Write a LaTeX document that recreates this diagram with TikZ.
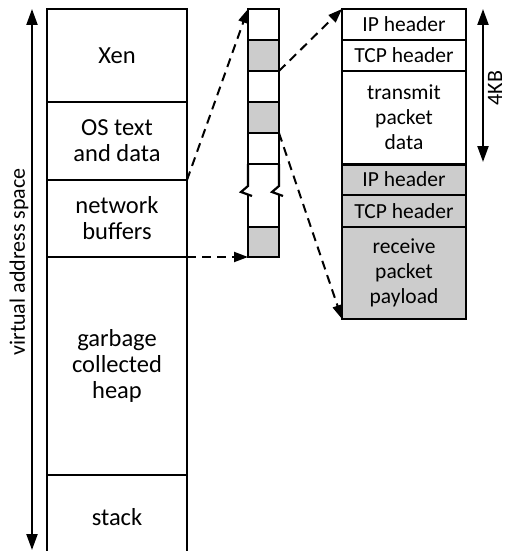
\documentclass[tikz,border=0pt]{standalone}
\usepackage{fontspec}
\setmainfont{Carlito}
\usetikzlibrary{arrows.meta,positioning}
\tikzset{
	cell/.style={draw,line width=2.2pt,outer sep=0pt,inner sep=0pt,minimum width=140pt,align=center,font=\fontsize{24.5}{26}\selectfont},
	slot/.style={draw,line width=2.2pt,outer sep=0pt,inner sep=0pt,minimum width=31pt},
	pkt/.style={draw,line width=2.2pt,outer sep=0pt,inner sep=0pt,minimum width=124pt,align=center,font=\fontsize{21.5}{25}\selectfont},
	shade/.style={fill=black!20},
	edge/.style={line width=2.2pt},
	link/.style={line width=2pt,dash pattern=on 9pt off 6pt,-{Triangle[length=14pt,width=10pt]}},
	span/.style={line width=2.2pt,{Triangle[length=16pt,width=11pt]}-{Triangle[length=16pt,width=11pt]}},
	lbl/.style={rotate=90,font=\fontsize{22}{25}\selectfont},
}
\begin{document}
\begin{tikzpicture}[x=1pt,y=-1pt]
	\useasboundingbox (0,0) rectangle (507,551);
	% address space
	\node[cell,minimum height=93pt] (xen) at (117,55.5) {Xen};
	\node[cell,minimum height=78pt,below=0pt of xen] (os) {OS text\\and data};
	\node[cell,minimum height=77pt,below=0pt of os] (net) {network\\buffers};
	\node[cell,minimum height=218pt,below=0pt of net] (heap) {garbage\\collected\\heap};
	\node[cell,minimum height=85pt,below=0pt of heap] (stack) {stack};
	\coordinate (vtop) at (32,9);
	\coordinate (vbot) at (32,550);
	\draw[span] (vtop) -- (vbot);
	\node[lbl] (vas) at (19,262) {virtual address space};
	% buffer pages
	\node[slot,minimum height=31pt] (s1) at (263.5,24.5) {};
	\node[slot,shade,minimum height=31pt,below=0pt of s1] (s2) {};
	\node[slot,minimum height=31pt,below=0pt of s2] (s3) {};
	\node[slot,shade,minimum height=31pt,below=0pt of s3] (s4) {};
	\node[slot,minimum height=31pt,below=0pt of s4] (s5) {};
	\node[minimum width=31pt,minimum height=63pt,outer sep=0pt,inner sep=0pt,below=0pt of s5] (s6) {};
	\node[slot,shade,minimum height=30pt,below=0pt of s6] (s7) {};
	\draw[edge] (s6.north west) -- ++(0,22) -- ++(-7,6) -- ++(11,4);
	\draw[edge] (s6.south west) -- ++(0,-32);
	\draw[edge] (s6.north east) -- ++(0,22) -- ++(-7,6) -- ++(11,4);
	\draw[edge] (s6.south east) -- ++(0,-32);
	% one page
	\node[pkt,minimum height=31pt] (r1) at (404,24.5) {IP header};
	\node[pkt,minimum height=31pt,below=0pt of r1] (r2) {TCP header};
	\node[pkt,minimum height=93pt,below=0pt of r2] (r3) {transmit\\packet\\data};
	\node[pkt,shade,minimum height=31pt,below=0pt of r3] (r4) {IP header};
	\node[pkt,shade,minimum height=32pt,below=0pt of r4] (r5) {TCP header};
	\node[pkt,shade,minimum height=92pt,below=0pt of r5] (r6) {receive\\packet\\payload};
	\draw[line width=3pt] (r4.north west) -- (r4.north east);
	\coordinate (ktop) at (483,9);
	\coordinate (kbot) at (483,162);
	\draw[span] (ktop) -- (kbot);
	\node[lbl] (kb) at (495,88) {4KB};
	% mappings
	\draw[link] (os.south east) -- (s1.north west);
	\draw[link] (net.south east) -- (s7.south west);
	\draw[link] (s3.north east) -- (r1.north west);
	\draw[link] (s4.south east) -- (r6.south west);
\end{tikzpicture}
\end{document}
